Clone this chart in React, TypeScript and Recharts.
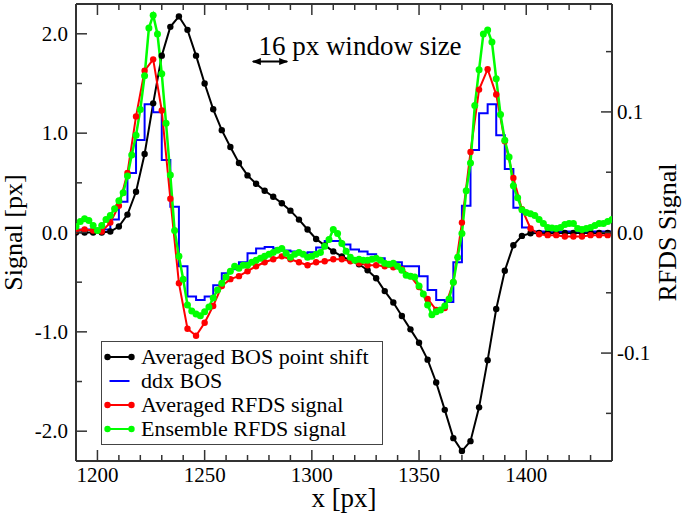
import { LineChart, Line, XAxis, YAxis, Legend, ReferenceLine } from "recharts";

const FONT = "'Liberation Serif', 'Times New Roman', Times, serif";
const FRAME = "#333";

// sampling positions, x [px]
const coarseX = [
  1190, 1194, 1198, 1202, 1206, 1210, 1214, 1218, 1222, 1226,
  1230, 1234, 1238, 1242, 1246, 1250, 1254, 1258, 1262, 1266,
  1270, 1274, 1278, 1282, 1286, 1290, 1294, 1298, 1302, 1306,
  1310, 1314, 1318, 1322, 1326, 1330, 1334, 1338, 1342, 1346,
  1350, 1354, 1358, 1362, 1366, 1370, 1374, 1378, 1382, 1386,
  1390, 1394, 1398, 1402, 1406, 1410, 1414, 1418, 1422, 1426,
  1430, 1434, 1438,
];

// Averaged BOS point shift, Signal [px]
const bosShift = [
  0, 0, 0, 0, 0.01, 0.06, 0.18, 0.41, 0.79, 1.3,
  1.78, 2.07, 2.175, 2.04, 1.78, 1.5, 1.24, 1.03, 0.86, 0.7,
  0.575, 0.49, 0.42, 0.36, 0.295, 0.22, 0.13, 0.03, -0.065, -0.13,
  -0.19, -0.24, -0.28, -0.32, -0.38, -0.46, -0.59, -0.705, -0.84, -0.975,
  -1.11, -1.28, -1.51, -1.785, -2.07, -2.2, -2.1, -1.76, -1.285, -0.77,
  -0.385, -0.128, -0.034, -0.007, -0.005, -0.005, -0.005, -0.005, -0.005, -0.005,
  -0.005, -0.005, -0.005,
];

// ddx BOS (step curve), Signal [px]
const ddxX = [...coarseX, 1442];
const ddxBos = [
  0.03, 0.03, 0.03, 0.03, 0.13, 0.31, 0.6, 0.93, 1.29, 1.21,
  0.73, 0.26, -0.34, -0.645, -0.68, -0.645, -0.53, -0.41, -0.37, -0.3,
  -0.21, -0.16, -0.145, -0.16, -0.18, -0.19, -0.21, -0.2, -0.15, -0.085,
  -0.085, -0.12, -0.17, -0.19, -0.22, -0.26, -0.3, -0.3, -0.34, -0.34,
  -0.44, -0.58, -0.68, -0.7, -0.3, 0.27, 0.83, 1.2, 1.29, 0.98,
  0.64, 0.25, 0.05, 0.01, 0.01, 0.01, 0.01, 0.01, 0.01, 0.01,
  0.01, 0.01, 0.01, 0.01,
];

// Averaged RFDS signal, RFDS Signal
const rfdsAveraged = [
  0.0016, 0.0025, 0.0016, 0.0008, 0.0082, 0.0222, 0.0494, 0.0963, 0.1342, 0.1436,
  0.1012, 0.028, -0.042, -0.0798, -0.0856, -0.0749, -0.0609, -0.0444, -0.0387, -0.0362,
  -0.0321, -0.028, -0.0247, -0.0222, -0.0198, -0.0222, -0.0247, -0.0272, -0.0247, -0.0239,
  -0.0222, -0.0222, -0.0239, -0.0255, -0.0272, -0.0272, -0.028, -0.0288, -0.0305, -0.0362,
  -0.0453, -0.0551, -0.0642, -0.0626, -0.0412, 0.0082, 0.0667, 0.1185, 0.1354, 0.1144,
  0.0757, 0.0453, 0.0193, 0.0033, -0.0014, -0.0022, -0.0022, -0.0033, -0.0033, -0.0033,
  -0.0022, -0.0022, -0.0022,
];

const fineX = [
  1190, 1192, 1194, 1196, 1198, 1200, 1202, 1204, 1206, 1208,
  1210, 1212, 1214, 1216, 1218, 1220, 1222, 1224, 1226, 1228,
  1230, 1232, 1234, 1236, 1238, 1240, 1242, 1244, 1246, 1248,
  1250, 1252, 1254, 1256, 1258, 1260, 1262, 1264, 1266, 1268,
  1270, 1272, 1274, 1276, 1278, 1280, 1282, 1284, 1286, 1288,
  1290, 1292, 1294, 1296, 1298, 1300, 1302, 1304, 1306, 1308,
  1310, 1312, 1314, 1316, 1318, 1320, 1322, 1324, 1326, 1328,
  1330, 1332, 1334, 1336, 1338, 1340, 1342, 1344, 1346, 1348,
  1350, 1352, 1354, 1356, 1358, 1360, 1362, 1364, 1366, 1368,
  1370, 1372, 1374, 1376, 1378, 1380, 1382, 1384, 1386, 1388,
  1390, 1392, 1394, 1396, 1398, 1400, 1402, 1404, 1406, 1408,
  1410, 1412, 1414, 1416, 1418, 1420, 1422, 1424, 1426, 1428,
  1430, 1432, 1434, 1436, 1438, 1440,
];

// Ensemble RFDS signal, RFDS Signal
const rfdsEnsemble = [
  0.0049, 0.0091, 0.0115, 0.0099, 0.0058, 0.0016, 0.0058, 0.0107, 0.014, 0.0198,
  0.0263, 0.0329, 0.0469, 0.0642, 0.0807, 0.1021, 0.13, 0.1695, 0.1802, 0.1646,
  0.1317, 0.0905, 0.0477, 0.0016, -0.0198, -0.0387, -0.0601, -0.065, -0.0675, -0.0691,
  -0.0658, -0.0617, -0.0543, -0.0477, -0.042, -0.037, -0.0321, -0.028, -0.0296, -0.0272,
  -0.0272, -0.0247, -0.023, -0.0214, -0.0198, -0.0181, -0.0165, -0.0148, -0.0132, -0.0173,
  -0.0206, -0.0181, -0.0165, -0.0181, -0.0206, -0.0198, -0.0181, -0.0165, -0.0115, -0.0058,
  0.0025, -0.0008, -0.0091, -0.0156, -0.0206, -0.023, -0.0222, -0.023, -0.023, -0.0222,
  -0.0214, -0.023, -0.0255, -0.0263, -0.0255, -0.028, -0.0313, -0.0354, -0.0362, -0.037,
  -0.0444, -0.051, -0.0601, -0.0683, -0.0658, -0.0642, -0.0609, -0.0551, -0.0412, -0.0206,
  -0.0008, 0.0346, 0.0576, 0.1053, 0.135, 0.1646, 0.1679, 0.158, 0.1276, 0.0979,
  0.0765, 0.0626, 0.0387, 0.0288, 0.0189, 0.0165, 0.0156, 0.014, 0.0107, 0.0074,
  0.0041, 0.0037, 0.0033, 0.0041, 0.0066, 0.0074, 0.0074, 0.0033, 0.0025, 0.0033,
  0.0041, 0.0058, 0.0074, 0.0074, 0.0091, 0.0107,
];

// window-size marker (16 px wide)
const windowStart = 1272.5;
const windowSize = 16;
const windowLevel = 1.72;

const legendOrder = [
  "Averaged BOS point shift",
  "ddx BOS",
  "Averaged RFDS signal",
  "Ensemble RFDS signal",
];

const xTicks = [
  1200, 1210, 1220, 1230, 1240, 1250, 1260, 1270, 1280, 1290, 1300, 1310,
  1320, 1330, 1340, 1350, 1360, 1370, 1380, 1390, 1400, 1410, 1420, 1430,
];
const xMajor = [1200, 1250, 1300, 1350, 1400];
const leftTicks = [-2, -1.5, -1, -0.5, 0, 0.5, 1, 1.5, 2];
const leftMajor = [-2, -1, 0, 1, 2];
const rightTicks = [-0.15, -0.1, -0.05, 0, 0.05, 0.1, 0.15];
const rightMajor = [-0.1, 0, 0.1];

const zip = (xs: number[], ys: number[]) => ys.map((y, i) => ({ x: xs[i], y }));

const MAJOR_LEN = 11;
const MINOR_LEN = 6;

const BottomTick = (props: any) => {
  const { x, y, payload } = props;
  const major = xMajor.includes(payload.value);
  return (
    <g>
      <line x1={x} y1={y} x2={x} y2={y - (major ? MAJOR_LEN : MINOR_LEN)} stroke={FRAME} strokeWidth={1.5} />
      {major && (
        <text x={x} y={y + 21} textAnchor="middle" fontFamily={FONT} fontSize={21} fill="#000">
          {payload.value}
        </text>
      )}
    </g>
  );
};

const TopTick = (props: any) => {
  const { x, y, payload } = props;
  const major = xMajor.includes(payload.value);
  return <line x1={x} y1={y} x2={x} y2={y + (major ? MAJOR_LEN : MINOR_LEN)} stroke={FRAME} strokeWidth={1.5} />;
};

const LeftTick = (props: any) => {
  const { x, y, payload } = props;
  const major = leftMajor.includes(payload.value);
  return (
    <g>
      <line x1={x} y1={y} x2={x + (major ? MAJOR_LEN : MINOR_LEN)} y2={y} stroke={FRAME} strokeWidth={1.5} />
      {major && (
        <text x={x - 8} y={y + 7} textAnchor="end" fontFamily={FONT} fontSize={21} fill="#000">
          {payload.value.toFixed(1)}
        </text>
      )}
    </g>
  );
};

const RightTick = (props: any) => {
  const { x, y, payload } = props;
  const major = rightMajor.includes(payload.value);
  return (
    <g>
      <line x1={x} y1={y} x2={x - (major ? MAJOR_LEN : MINOR_LEN)} y2={y} stroke={FRAME} strokeWidth={1.5} />
      {major && (
        <text x={x + 5} y={y + 7} textAnchor="start" fontFamily={FONT} fontSize={21} fill="#000">
          {payload.value.toFixed(1)}
        </text>
      )}
    </g>
  );
};

const YTitle = ({ viewBox, text, dx }: any) => {
  const cx = viewBox.x + dx;
  const cy = viewBox.y + viewBox.height / 2;
  return (
    <text x={cx} y={cy} transform={`rotate(-90 ${cx} ${cy})`} textAnchor="middle" fontFamily={FONT} fontSize={26} fill="#000">
      {text}
    </text>
  );
};

const XTitle = ({ viewBox }: any) => (
  <text x={viewBox.x + viewBox.width / 2} y={viewBox.y + 46} textAnchor="middle" fontFamily={FONT} fontSize={27} fill="#000">
    x [px]
  </text>
);

const WindowNote = ({ viewBox }: any) => (
  <text x={viewBox.x + 5.5} y={viewBox.y - 7} fontFamily={FONT} fontSize={27} fill="#000">
    16 px window size
  </text>
);

const LegendBox = ({ payload }: any) => {
  const items = [...(payload || [])].sort(
    (a: any, b: any) => legendOrder.indexOf(a.value) - legendOrder.indexOf(b.value)
  );
  return (
    <div
      style={{
        border: "1.5px solid #444",
        background: "#fff",
        padding: "3px 0",
        fontFamily: FONT,
        fontSize: 22,
        color: "#000",
        boxSizing: "border-box",
      }}
    >
      {items.map((e: any) => {
        const dots = e.payload?.dot !== false;
        return (
          <div key={e.value} style={{ display: "flex", alignItems: "center", height: 24 }}>
            <svg width={39} height={24} style={{ flex: "none" }}>
              <line x1={dots ? 5.5 : 7.5} x2={dots ? 29.5 : 27.5} y1={12} y2={12} stroke={e.color} strokeWidth={2} />
              {dots && <circle cx={5.5} cy={12} r={3.2} fill={e.color} />}
              {dots && <circle cx={29.5} cy={12} r={3.2} fill={e.color} />}
            </svg>
            <span style={{ lineHeight: "24px", whiteSpace: "nowrap" }}>{e.value}</span>
          </div>
        );
      })}
    </div>
  );
};

export default function App() {
  return (
    <div style={{ position: "absolute", left: 0, top: 0, width: 685, height: 517, background: "#fff" }}>
      <LineChart width={685} height={517} margin={{ top: 0, right: 0, bottom: 0, left: 0 }}>
        <defs>
          <marker id="arrowHead" markerWidth="9" markerHeight="8" refX="8" refY="4" orient="auto-start-reverse" markerUnits="userSpaceOnUse">
            <path d="M0,0.5 L9,4 L0,7.5 z" fill="#000" />
          </marker>
        </defs>
        <XAxis
          dataKey="x"
          type="number"
          domain={[1190, 1440]}
          allowDataOverflow
          ticks={xTicks}
          interval={0}
          tickSize={0}
          tickMargin={0}
          tickLine={false}
          tick={<BottomTick />}
          axisLine={{ stroke: FRAME, strokeWidth: 2 }}
          height={56}
          label={<XTitle />}
        />
        <XAxis
          xAxisId="top"
          orientation="top"
          dataKey="x"
          type="number"
          domain={[1190, 1440]}
          allowDataOverflow
          ticks={xTicks}
          interval={0}
          tickSize={0}
          tickMargin={0}
          tickLine={false}
          tick={<TopTick />}
          axisLine={{ stroke: FRAME, strokeWidth: 2 }}
          height={4}
        />
        <YAxis
          yAxisId="left"
          type="number"
          domain={[-2.3, 2.3]}
          allowDataOverflow
          ticks={leftTicks}
          interval={0}
          tickSize={0}
          tickMargin={0}
          tickLine={false}
          tick={<LeftTick />}
          axisLine={{ stroke: FRAME, strokeWidth: 2 }}
          width={76}
          label={<YTitle text="Signal [px]" dx={22} />}
        />
        <YAxis
          yAxisId="right"
          orientation="right"
          type="number"
          domain={[-0.1895, 0.1895]}
          allowDataOverflow
          ticks={rightTicks}
          interval={0}
          tickSize={0}
          tickMargin={0}
          tickLine={false}
          tick={<RightTick />}
          axisLine={{ stroke: FRAME, strokeWidth: 2 }}
          width={73}
          label={<YTitle text="RFDS Signal" dx={64} />}
        />
        <Legend
          layout="vertical"
          align="center"
          verticalAlign="middle"
          content={<LegendBox />}
          wrapperStyle={{ left: 101, top: 341, width: 282 }}
        />
        <ReferenceLine
          yAxisId="left"
          segment={[
            { x: windowStart, y: windowLevel },
            { x: windowStart + windowSize, y: windowLevel },
          ]}
          stroke="#000"
          strokeWidth={2}
          markerStart="url(#arrowHead)"
          markerEnd="url(#arrowHead)"
          label={<WindowNote />}
        />
        <Line
          yAxisId="left"
          data={zip(coarseX, bosShift)}
          dataKey="y"
          name="Averaged BOS point shift"
          stroke="#000"
          strokeWidth={2}
          dot={{ r: 3.2, fill: "#000", stroke: "none" }}
          activeDot={false}
          isAnimationActive={false}
        />
        <Line
          yAxisId="left"
          type="stepAfter"
          data={zip(ddxX, ddxBos)}
          dataKey="y"
          name="ddx BOS"
          stroke="#0000ff"
          strokeWidth={2}
          dot={false}
          activeDot={false}
          isAnimationActive={false}
        />
        <Line
          yAxisId="right"
          data={zip(coarseX, rfdsAveraged)}
          dataKey="y"
          name="Averaged RFDS signal"
          stroke="#ff0000"
          strokeWidth={2}
          dot={{ r: 3.2, fill: "#ff0000", stroke: "none" }}
          activeDot={false}
          isAnimationActive={false}
        />
        <Line
          yAxisId="right"
          data={zip(fineX, rfdsEnsemble)}
          dataKey="y"
          name="Ensemble RFDS signal"
          stroke="#00ff00"
          strokeWidth={2.5}
          dot={{ r: 3.5, fill: "#00ff00", stroke: "none" }}
          activeDot={false}
          isAnimationActive={false}
        />
      </LineChart>
    </div>
  );
}
